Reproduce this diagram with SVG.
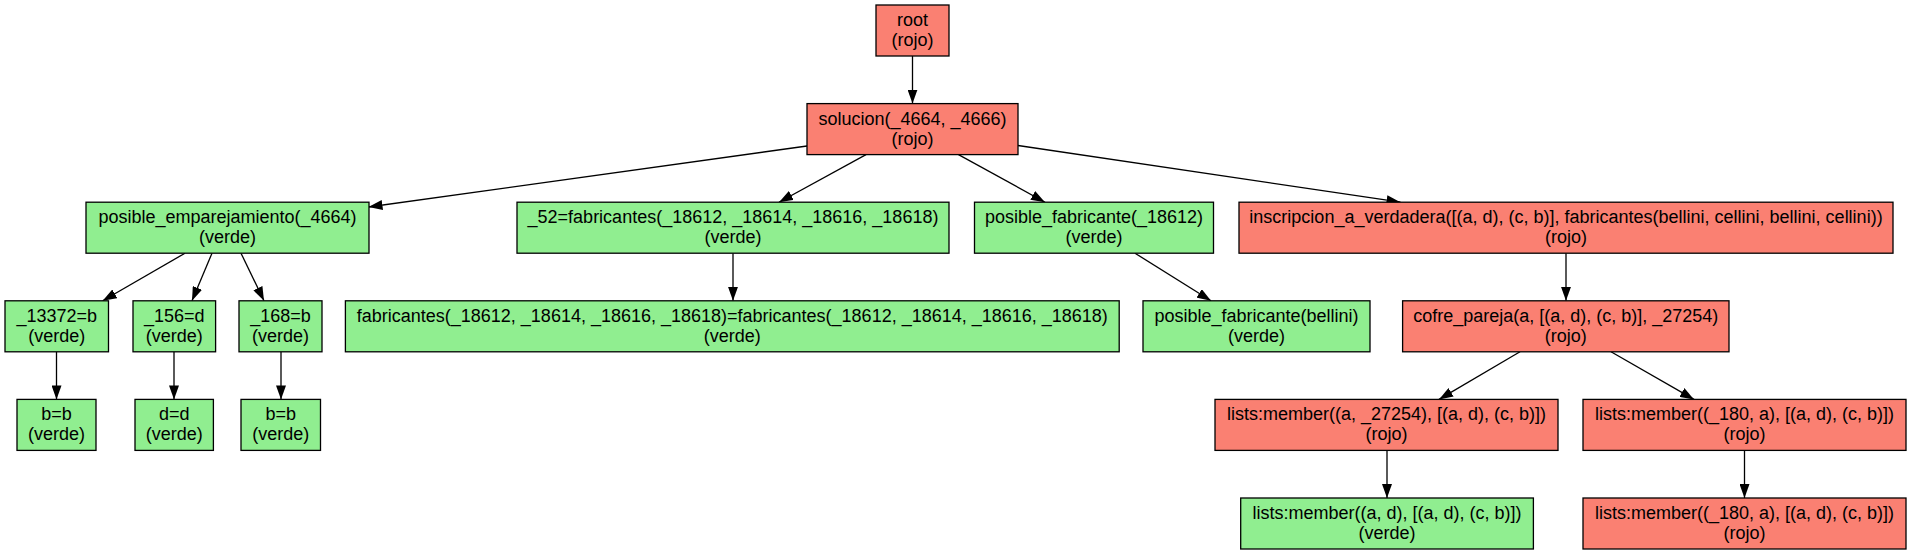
<svg xmlns="http://www.w3.org/2000/svg" width="1911" height="555" viewBox="0 0 1911 555">
<style>
.r rect{fill:#fa8072;stroke:#000;stroke-width:1.3}
.g rect{fill:#90ee90;stroke:#000;stroke-width:1.3}
text{font-family:"Liberation Sans",Arial,sans-serif;font-size:18px;text-anchor:middle;fill:#000}
.e line{stroke:#000;stroke-width:1.3;marker-end:url(#ah)}
</style>
<defs>
<marker id="ah" markerUnits="userSpaceOnUse" markerWidth="14" markerHeight="10" viewBox="0 0 14 10" refX="14" refY="5" orient="auto">
<path d="M0,0 L14,5 L0,10 z" fill="#000"/>
</marker>
</defs>
<rect width="1911" height="555" fill="#fff"/>
<g id="edges" class="e">
<line x1="912.5" y1="56" x2="912.5" y2="103.6"/>
<line x1="807" y1="146" x2="368.5" y2="207"/>
<line x1="866" y1="154.6" x2="779" y2="202.2"/>
<line x1="958.5" y1="154.6" x2="1045" y2="202.2"/>
<line x1="1018" y1="145.5" x2="1400.5" y2="202.2"/>
<line x1="185" y1="253.2" x2="102.7" y2="300.8"/>
<line x1="212" y1="253.2" x2="192" y2="300.8"/>
<line x1="241" y1="253.2" x2="264" y2="300.8"/>
<line x1="733" y1="253.2" x2="733" y2="300.8"/>
<line x1="1135" y1="253.2" x2="1211" y2="300.8"/>
<line x1="1566" y1="253.2" x2="1566" y2="300.8"/>
<line x1="56.5" y1="351.8" x2="56.5" y2="399.4"/>
<line x1="174" y1="351.8" x2="174" y2="399.4"/>
<line x1="281" y1="351.8" x2="281" y2="399.4"/>
<line x1="1520" y1="351.8" x2="1439" y2="399.4"/>
<line x1="1611" y1="351.8" x2="1694" y2="399.4"/>
<line x1="1387" y1="450.4" x2="1387" y2="498"/>
<line x1="1744.5" y1="450.4" x2="1744.5" y2="498"/>
</g>
<g id="root" class="r"><rect x="876" y="5" width="73" height="51"/><text x="912.5" y="26">root</text><text x="912.5" y="46">(rojo)</text></g>
<g id="solucion" class="r"><rect x="807" y="103.6" width="211" height="51"/><text x="912.5" y="124.6">solucion(_4664, _4666)</text><text x="912.5" y="144.6">(rojo)</text></g>
<g id="posible_emparejamiento" class="g"><rect x="86" y="202.2" width="283" height="51"/><text x="227.5" y="223.2">posible_emparejamiento(_4664)</text><text x="227.5" y="243.2">(verde)</text></g>
<g id="fab52" class="g"><rect x="517" y="202.2" width="432" height="51"/><text x="733" y="223.2">_52=fabricantes(_18612, _18614, _18616, _18618)</text><text x="733" y="243.2">(verde)</text></g>
<g id="posible_fabricante_18612" class="g"><rect x="974.5" y="202.2" width="239" height="51"/><text x="1094" y="223.2">posible_fabricante(_18612)</text><text x="1094" y="243.2">(verde)</text></g>
<g id="inscripcion" class="r"><rect x="1239" y="202.2" width="654" height="51"/><text x="1566" y="223.2">inscripcion_a_verdadera([(a, d), (c, b)], fabricantes(bellini, cellini, bellini, cellini))</text><text x="1566" y="243.2">(rojo)</text></g>
<g id="n13372" class="g"><rect x="5" y="300.8" width="103.5" height="51"/><text x="56.75" y="321.8">_13372=b</text><text x="56.75" y="341.8">(verde)</text></g>
<g id="n156" class="g"><rect x="133" y="300.8" width="82.6" height="51"/><text x="174.3" y="321.8">_156=d</text><text x="174.3" y="341.8">(verde)</text></g>
<g id="n168" class="g"><rect x="239" y="300.8" width="83" height="51"/><text x="280.5" y="321.8">_168=b</text><text x="280.5" y="341.8">(verde)</text></g>
<g id="fabeq" class="g"><rect x="345.4" y="300.8" width="773.8" height="51"/><text x="732.3" y="321.8">fabricantes(_18612, _18614, _18616, _18618)=fabricantes(_18612, _18614, _18616, _18618)</text><text x="732.3" y="341.8">(verde)</text></g>
<g id="posible_fabricante_bellini" class="g"><rect x="1143" y="300.8" width="227" height="51"/><text x="1256.5" y="321.8">posible_fabricante(bellini)</text><text x="1256.5" y="341.8">(verde)</text></g>
<g id="cofre_pareja" class="r"><rect x="1402.6" y="300.8" width="326.4" height="51"/><text x="1565.8" y="321.8">cofre_pareja(a, [(a, d), (c, b)], _27254)</text><text x="1565.8" y="341.8">(rojo)</text></g>
<g id="bb1" class="g"><rect x="17" y="399.4" width="79" height="51"/><text x="56.5" y="420.4">b=b</text><text x="56.5" y="440.4">(verde)</text></g>
<g id="dd" class="g"><rect x="135" y="399.4" width="78.4" height="51"/><text x="174.2" y="420.4">d=d</text><text x="174.2" y="440.4">(verde)</text></g>
<g id="bb2" class="g"><rect x="241" y="399.4" width="79.5" height="51"/><text x="280.75" y="420.4">b=b</text><text x="280.75" y="440.4">(verde)</text></g>
<g id="lm1" class="r"><rect x="1215" y="399.4" width="343" height="51"/><text x="1386.5" y="420.4">lists:member((a, _27254), [(a, d), (c, b)])</text><text x="1386.5" y="440.4">(rojo)</text></g>
<g id="lm2" class="r"><rect x="1583" y="399.4" width="323" height="51"/><text x="1744.5" y="420.4">lists:member((_180, a), [(a, d), (c, b)])</text><text x="1744.5" y="440.4">(rojo)</text></g>
<g id="lm3" class="g"><rect x="1240.7" y="498" width="292.7" height="51"/><text x="1387" y="519">lists:member((a, d), [(a, d), (c, b)])</text><text x="1387" y="539">(verde)</text></g>
<g id="lm4" class="r"><rect x="1583" y="498" width="323" height="51"/><text x="1744.5" y="519">lists:member((_180, a), [(a, d), (c, b)])</text><text x="1744.5" y="539">(rojo)</text></g>
</svg>
